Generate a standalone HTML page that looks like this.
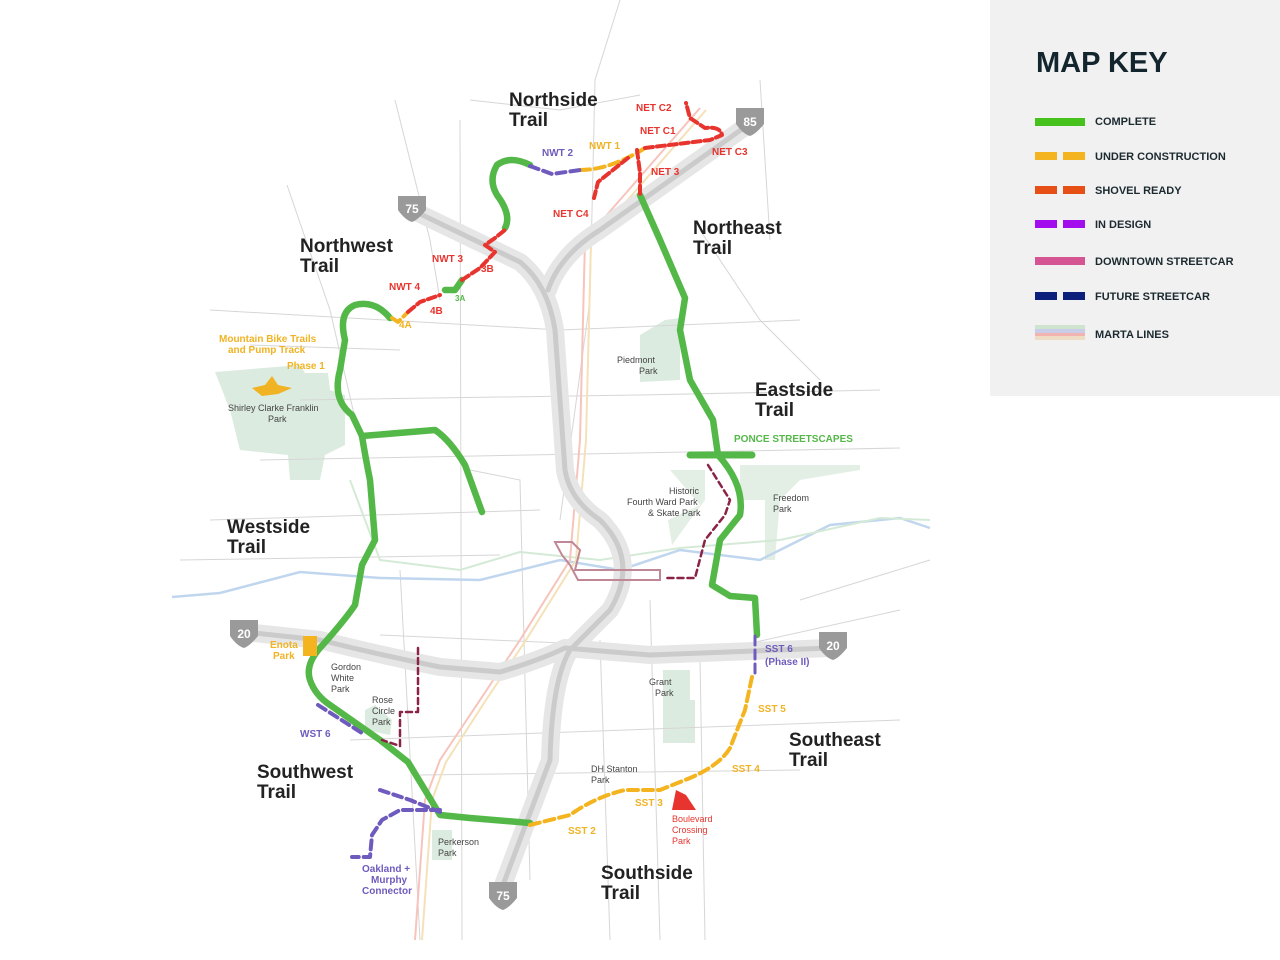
<!DOCTYPE html>
<html><head><meta charset="utf-8"><style>
html,body{margin:0;padding:0;background:#fff;width:1280px;height:960px;overflow:hidden}
svg{display:block}
text{font-family:"Liberation Sans",sans-serif}
.lbl{font-size:19px;fill:#222;font-weight:bold}
.sm{font-size:9px;fill:#444}
.y{fill:#f0b323;font-weight:bold;font-size:10px}
.r{fill:#e8342e;font-weight:bold;font-size:10px}
.p{fill:#6f5bbd;font-weight:bold;font-size:10px}
.k{font-size:11px;font-weight:bold;fill:#1c2a30}
</style></head><body>
<svg width="1280" height="960" viewBox="0 0 1280 960">
<!-- legend -->
<rect x="990" y="0" width="290" height="396" fill="#f1f1f1"/>
<text x="1036" y="72" font-size="29" font-weight="bold" fill="#13262e">MAP KEY</text>
<rect x="1035" y="118" width="50" height="8" fill="#47c21d"/><text class="k" x="1095" y="125">COMPLETE</text>
<rect x="1035" y="152" width="22" height="8" fill="#f3b41f"/><rect x="1063" y="152" width="22" height="8" fill="#f3b41f"/><text class="k" x="1095" y="160">UNDER CONSTRUCTION</text>
<rect x="1035" y="186" width="22" height="8" fill="#e64f15"/><rect x="1063" y="186" width="22" height="8" fill="#e64f15"/><text class="k" x="1095" y="194">SHOVEL READY</text>
<rect x="1035" y="220" width="22" height="8" fill="#a30ded"/><rect x="1063" y="220" width="22" height="8" fill="#a30ded"/><text class="k" x="1095" y="228">IN DESIGN</text>
<rect x="1035" y="257" width="50" height="8" fill="#d45591"/><text class="k" x="1095" y="265">DOWNTOWN STREETCAR</text>
<rect x="1035" y="292" width="22" height="8" fill="#0c1f7a"/><rect x="1063" y="292" width="22" height="8" fill="#0c1f7a"/><text class="k" x="1095" y="300">FUTURE STREETCAR</text>
<rect x="1035" y="325" width="50" height="4" fill="#cfe4cf"/><rect x="1035" y="329" width="50" height="4" fill="#c9cde8"/><rect x="1035" y="333" width="50" height="3" fill="#f2b4b0"/><rect x="1035" y="336" width="50" height="4" fill="#eedcc4"/><text class="k" x="1095" y="338">MARTA LINES</text>

<!-- parks -->
<g fill="#dcebdf">
<path d="M215 372 L300 365 L305 373 L328 373 L330 390 L345 395 L345 445 L325 455 L320 480 L290 480 L288 455 L240 450 L230 410 Z"/>
<path d="M640 335 L665 320 L680 318 L680 380 L640 382 Z"/>
<path d="M663 670 L690 670 L690 700 L695 700 L695 743 L663 743 Z"/>
<path d="M432 830 L452 830 L452 860 L432 860 Z"/>
<path d="M670 470 L705 470 L705 500 L690 520 L672 545 L668 520 L700 505 Z" opacity=".8"/>
<path d="M740 465 L860 465 L860 470 L800 480 L780 500 L775 560 L765 560 L765 500 L740 500 Z" opacity=".8"/>
<path d="M365 710 L375 705 L392 720 L390 735 L365 730 Z"/>
</g>
<!-- thin roads -->
<g stroke="#d6d6d6" stroke-width="1" fill="none">
<path d="M287 185 L330 310 L360 440"/><path d="M460 120 L462 940"/><path d="M620 0 L595 80 L590 300 L560 520"/>
<path d="M395 100 L430 240 L440 300"/><path d="M210 310 L560 330 L800 320"/><path d="M300 400 L640 395 L880 390"/>
<path d="M260 460 L900 448"/><path d="M210 520 L540 510"/><path d="M180 560 L500 555"/><path d="M350 740 L900 720"/>
<path d="M420 775 L800 770"/><path d="M600 640 L610 940"/><path d="M650 600 L660 940"/><path d="M700 660 L705 940"/>
<path d="M800 600 L930 560"/><path d="M470 470 L520 480 L530 880"/><path d="M700 230 L760 320 L820 380"/>
<path d="M470 100 L560 110 L640 95"/><path d="M760 80 L770 240"/><path d="M380 635 L720 650 L900 610"/>
<path d="M400 570 L420 940"/><path d="M250 345 L400 350"/>
</g>
<!-- river/greenway -->
<path d="M172 597 L220 593 L300 572 L380 578 L480 580 L560 560 L620 570 L680 550 L760 560 L830 525 L900 518 L930 528" stroke="#c0d6ee" stroke-width="2.5" fill="none"/>
<path d="M350 480 L380 560 L460 570 L520 552 L600 560 L680 548 L780 540 L880 518 L930 520" stroke="#d4ead6" stroke-width="2" fill="none"/>
<!-- MARTA -->
<g fill="none" stroke-width="2">
<path d="M700 108 L585 240 L580 440 L570 560 L520 640 L480 700 L440 760 L425 800 L415 940" stroke="#f7c4bc"/>
<path d="M706 110 L591 242 L586 440 L576 560 L526 640 L486 700 L446 762 L432 800 L422 940" stroke="#f5e1b8"/>
</g>
<!-- highways -->
<g fill="none" stroke-linecap="round" stroke-linejoin="round">
<g stroke="#e6e6e6" stroke-width="18">
<path d="M412 210 L520 262 Q548 285 555 330 L565 470 Q570 500 600 520 Q640 560 610 610 L570 650 Q552 680 550 760 L503 885"/>
<path d="M752 122 L600 230 Q560 255 548 290"/>
<path d="M245 632 L320 640 Q380 655 440 667 L500 672 Q540 660 565 648 L650 655 L830 648"/>
</g>
<g stroke="#cbcbcb" stroke-width="5">
<path d="M412 210 L520 262 Q548 285 555 330 L565 470 Q570 500 600 520 Q640 560 610 610 L570 650 Q552 680 550 760 L503 885"/>
<path d="M752 122 L600 230 Q560 255 548 290"/>
<path d="M245 632 L320 640 Q380 655 440 667 L500 672 Q540 660 565 648 L650 655 L830 648"/>
</g>
</g>
<!-- streetcar -->
<path d="M555 542 L572 542 L580 550 L575 570 L660 570 L660 580 L578 580 L570 565 L562 555 Z" fill="none" stroke="#c08796" stroke-width="2"/>
<!-- trails -->
<g fill="none" stroke-linecap="round" stroke-linejoin="round">
<g stroke="#54b848" stroke-width="6.5">
<path d="M530 165 Q510 155 497 165 Q488 180 497 195 Q512 215 505 228"/>
<path d="M640 195 L660 240 L685 298 L680 330 L690 380 L713 420 L718 455 Q745 485 740 515 L720 540 L712 585 L730 596 L755 598 L757 635"/>
<path d="M690 455 L752 455" stroke-width="7"/>
<path d="M390 318 Q375 300 355 305 Q338 312 345 340 L340 370 Q332 400 352 415 L362 436 L435 430 Q450 440 465 465 L482 512"/>
<path d="M362 436 Q365 455 370 480 L375 540 L362 565 L355 605 Q345 620 320 648 Q305 665 310 680 Q315 695 330 705 L380 740 L408 762 L428 795 L440 815 L470 818 L530 823"/>
<path d="M445 290 L455 290 L462 280"/>
</g>
<g stroke="#f3b41f" stroke-width="4" stroke-dasharray="10 5">
<path d="M530 825 L570 815 Q595 797 625 790 L660 790 L690 778 Q720 765 730 748 L745 710 L752 677"/>
<path d="M580 170 Q610 170 645 148"/>
<path d="M392 318 L398 322 L408 312"/>
</g>
<g stroke="#e8342e" stroke-width="4" stroke-dasharray="8 4">
<path d="M408 312 L420 302 L440 295 M462 280 L480 268 L495 252 L485 245 L495 238 L505 230"/>
<path d="M645 148 L710 140 L722 135 Q720 126 705 128 L690 118 L686 103"/>
<path d="M637 150 L640 173 L640 195"/>
<path d="M628 158 L598 182 L594 198"/>
</g>
<g stroke="#6f5bbd" stroke-width="4" stroke-dasharray="9 5">
<path d="M530 166 L552 174 L580 170"/>
<path d="M318 705 L365 735"/>
<path d="M380 790 L410 800 L440 812"/>
<path d="M440 810 L400 810 L382 820 L372 835 L370 857 L352 857"/>
<path d="M755 636 L755 675" stroke-width="3"/>
</g>
<g stroke="#8a2345" stroke-width="2.5" stroke-dasharray="6 4">
<path d="M418 648 L418 712 L400 712 L400 746 L382 740"/>
<path d="M708 465 L730 500 L725 515 L705 540 L695 578 L665 578"/>
</g>
</g>
<path d="M676 790 L686 795 L696 810 L672 810 Z" fill="#e8342e"/>
<path d="M252 388 L265 385 L272 376 L278 385 L292 388 L278 394 L262 396 Z" fill="#f0b323"/>
<rect x="303" y="636" width="14" height="20" fill="#f3b41f"/>
<!-- shields -->
<g font-size="12" fill="#fff" text-anchor="middle" font-weight="bold">
<path d="M398 196 L426 196 L426 210 Q418 220 412 222 Q405 220 398 210 Z" fill="#9a9a9a"/><text x="412" y="213">75</text>
<path d="M736 108 L764 108 L764 124 Q756 134 750 136 Q743 134 736 124 Z" fill="#9a9a9a"/><text x="750" y="126">85</text>
<path d="M230 620 L258 620 L258 636 Q250 646 244 648 Q237 646 230 636 Z" fill="#9a9a9a"/><text x="244" y="638">20</text>
<path d="M819 632 L847 632 L847 648 Q839 658 833 660 Q826 658 819 648 Z" fill="#9a9a9a"/><text x="833" y="650">20</text>
<path d="M489 882 L517 882 L517 898 Q509 908 503 910 Q496 908 489 898 Z" fill="#9a9a9a"/><text x="503" y="900">75</text>
</g>
<!-- labels -->
<text class="lbl" x="509" y="106">Northside</text><text class="lbl" x="509" y="126">Trail</text>
<text class="lbl" x="300" y="252">Northwest</text><text class="lbl" x="300" y="272">Trail</text>
<text class="lbl" x="693" y="234">Northeast</text><text class="lbl" x="693" y="254">Trail</text>
<text class="lbl" x="755" y="396">Eastside</text><text class="lbl" x="755" y="416">Trail</text>
<text class="lbl" x="227" y="533">Westside</text><text class="lbl" x="227" y="553">Trail</text>
<text class="lbl" x="257" y="778">Southwest</text><text class="lbl" x="257" y="798">Trail</text>
<text class="lbl" x="789" y="746">Southeast</text><text class="lbl" x="789" y="766">Trail</text>
<text class="lbl" x="601" y="879">Southside</text><text class="lbl" x="601" y="899">Trail</text>
<text class="r" x="636" y="111">NET C2</text><text class="r" x="640" y="134">NET C1</text><text class="r" x="712" y="155">NET C3</text>
<text class="r" x="651" y="175">NET 3</text><text class="r" x="553" y="217">NET C4</text>
<text class="y" x="589" y="149">NWT 1</text><text class="p" x="542" y="156">NWT 2</text>
<text class="r" x="432" y="262">NWT 3</text><text class="r" x="481" y="272" font-size="8">3B</text>
<text class="r" x="389" y="290">NWT 4</text><text class="r" x="430" y="314" font-size="8">4B</text>
<text x="455" y="301" font-size="8" font-weight="bold" fill="#54b848">3A</text><text class="y" x="399" y="328" font-size="8">4A</text>
<text class="y" x="219" y="342" font-size="9" font-weight="normal">Mountain Bike Trails</text><text class="y" x="228" y="353" font-size="9" font-weight="normal">and Pump Track</text>
<text class="y" x="287" y="369" font-size="9" font-weight="normal">Phase 1</text>
<text class="sm" x="228" y="411">Shirley Clarke Franklin</text><text class="sm" x="268" y="422">Park</text>
<text class="sm" x="617" y="363">Piedmont</text><text class="sm" x="639" y="374">Park</text>
<text x="734" y="442" font-size="10" font-weight="bold" fill="#54b848">PONCE STREETSCAPES</text>
<text class="sm" x="669" y="494">Historic</text><text class="sm" x="627" y="505">Fourth Ward Park</text><text class="sm" x="648" y="516">&amp; Skate Park</text>
<text class="sm" x="773" y="501">Freedom</text><text class="sm" x="773" y="512">Park</text>
<text class="y" x="270" y="648" font-size="9" font-weight="normal">Enota</text><text class="y" x="273" y="659" font-size="9" font-weight="normal">Park</text>
<text class="sm" x="331" y="670">Gordon</text><text class="sm" x="331" y="681">White</text><text class="sm" x="331" y="692">Park</text>
<text class="sm" x="372" y="703">Rose</text><text class="sm" x="372" y="714">Circle</text><text class="sm" x="372" y="725">Park</text>
<text class="p" x="300" y="737">WST 6</text>
<text class="sm" x="649" y="685">Grant</text><text class="sm" x="655" y="696">Park</text>
<text class="p" x="765" y="652">SST 6</text><text class="p" x="765" y="665">(Phase II)</text>
<text class="y" x="758" y="712">SST 5</text><text class="y" x="732" y="772">SST 4</text>
<text class="y" x="635" y="806">SST 3</text><text class="y" x="568" y="834">SST 2</text>
<text class="sm" x="591" y="772">DH Stanton</text><text class="sm" x="591" y="783">Park</text>
<text x="672" y="822" font-size="9" fill="#e8342e">Boulevard</text><text x="672" y="833" font-size="9" fill="#e8342e">Crossing</text><text x="672" y="844" font-size="9" fill="#e8342e">Park</text>
<text class="sm" x="438" y="845">Perkerson</text><text class="sm" x="438" y="856">Park</text>
<text class="p" x="362" y="872">Oakland +</text><text class="p" x="371" y="883">Murphy</text><text class="p" x="362" y="894">Connector</text>
</svg>
</body></html>
